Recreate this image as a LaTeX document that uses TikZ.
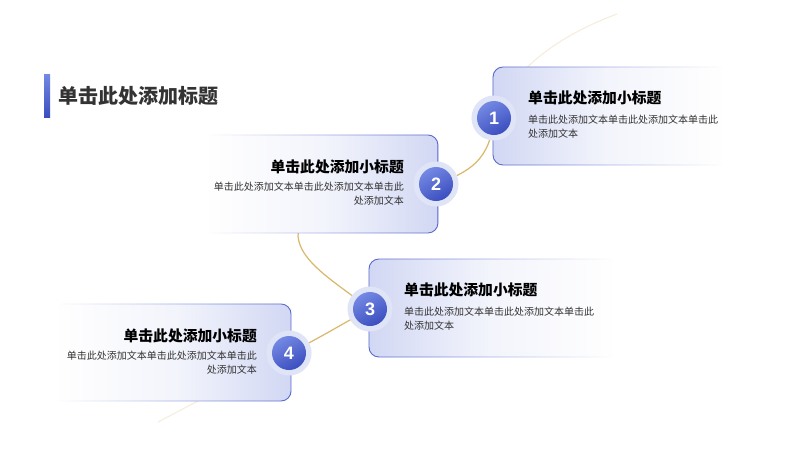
\documentclass[tikz,border=0pt]{standalone}
\usepackage{fontspec}
\setmainfont{Liberation Sans}
\newfontfamily\cjk{Noto Sans CJK SC}
\usetikzlibrary{fadings}
\definecolor{gold}{HTML}{D8B86A}
\definecolor{edge}{HTML}{5568CC}
\definecolor{boxbl}{HTML}{D2D8F4}
\definecolor{halo}{HTML}{DFE4F7}
\definecolor{cA}{HTML}{7489E3}
\definecolor{cB}{HTML}{3B4EBF}
\definecolor{ttl}{HTML}{333333}
\definecolor{body}{HTML}{333333}
\tikzfading[name=edgeR, left color=transparent!0, right color=transparent!100]
\tikzfading[name=edgeL, left color=transparent!100, right color=transparent!0]
\tikzfading[name=fillR, left color=transparent!0, right color=transparent!100, middle color=transparent!75]
\tikzfading[name=fillL, left color=transparent!100, right color=transparent!0, middle color=transparent!75]
\pgfdeclarelayer{back}
\pgfdeclarelayer{bg}
\pgfsetlayers{back,bg,main}
\begin{document}
\begin{tikzpicture}[x=1pt,y=1pt,
  circ/.style={circle, minimum size=34pt, inner sep=0pt,
    preaction={draw=halo, line width=11pt},
    top color=cA, bottom color=cB, shading angle=30,
    text=white, font=\bfseries\fontsize{18}{18}\selectfont},
  subttl/.style={font=\cjk\bfseries\fontsize{14.8}{16}\selectfont, text=black, inner sep=0pt},
  bodytxt/.style={font=\cjk\fontsize{10}{14}\selectfont, text=body, inner sep=0pt},
  curve/.style={draw=gold, line width=1.2pt},
  faint/.style={draw=gold!25, line width=1pt},
  boxedge/.style={draw=edge, line width=0.9pt},
  boxfill/.style={fill=boxbl, draw=none, rounded corners=10pt},
  boxwhite/.style={fill=white, draw=none, rounded corners=10pt}]
\useasboundingbox (0,0) rectangle (800,-450);
\begin{pgfonlayer}{back}
\fill[white] (0,0) rectangle (800,-450);
\end{pgfonlayer}

% title
\shade[top color=cA, bottom color=cB] (44,-74) rectangle (50,-117);
\node[anchor=west, inner sep=0pt, text=ttl, font=\cjk\bfseries\fontsize{20}{22}\selectfont] (title) at (58,-96) {单击此处添加标题};

% box 1 (left rounded)
\fill[boxwhite] (722,-67) -- (493,-67) -- (493,-165) -- (722,-165);
\fill[boxfill, path fading=fillR] (722,-67) -- (493,-67) -- (493,-165) -- (722,-165);
\draw[boxedge, path fading=edgeR, rounded corners=10pt] (722,-67) -- (493,-67) -- (493,-165) -- (722,-165);
% box 2 (right rounded)
\fill[boxwhite] (208,-135) -- (438,-135) -- (438,-233) -- (208,-233);
\fill[boxfill, path fading=fillL] (208,-135) -- (438,-135) -- (438,-233) -- (208,-233);
\draw[boxedge, path fading=edgeL, rounded corners=10pt] (208,-135) -- (438,-135) -- (438,-233) -- (208,-233);
% box 3 (left rounded)
\fill[boxwhite] (612,-259) -- (369,-259) -- (369,-357) -- (612,-357);
\fill[boxfill, path fading=fillR] (612,-259) -- (369,-259) -- (369,-357) -- (612,-357);
\draw[boxedge, path fading=edgeR, rounded corners=10pt] (612,-259) -- (369,-259) -- (369,-357) -- (612,-357);
% box 4 (right rounded)
\fill[boxwhite] (58,-304) -- (291,-304) -- (291,-401) -- (58,-401);
\fill[boxfill, path fading=fillL] (58,-304) -- (291,-304) -- (291,-401) -- (58,-401);
\draw[boxedge, path fading=edgeL, rounded corners=10pt] (58,-304) -- (291,-304) -- (291,-401) -- (58,-401);

% circles
\node[circ] (n1) at (494,-118) {1};
\node[circ] (n2) at (436,-184) {2};
\node[circ] (n3) at (370,-309) {3};
\node[circ] (n4) at (289,-353) {4};

% texts
\node[subttl, anchor=west] (t1) at (528,-98) {单击此处添加小标题};
\node[bodytxt, anchor=north west, align=left] (b1) at (528,-115) {单击此处添加文本单击此处添加文本单击此\\处添加文本};
\node[subttl, anchor=east] (t2) at (404,-167) {单击此处添加小标题};
\node[bodytxt, anchor=north east, align=right] (b2) at (404,-182) {单击此处添加文本单击此处添加文本单击此\\处添加文本};
\node[subttl, anchor=west] (t3) at (404,-290) {单击此处添加小标题};
\node[bodytxt, anchor=north west, align=left] (b3) at (404,-307) {单击此处添加文本单击此处添加文本单击此\\处添加文本};
\node[subttl, anchor=east] (t4) at (257,-336) {单击此处添加小标题};
\node[bodytxt, anchor=north east, align=right] (b4) at (257,-351) {单击此处添加文本单击此处添加文本单击此\\处添加文本};

\coordinate (top) at (617,-14);
\coordinate (bot) at (158,-422);

% connectors behind boxes
\begin{pgfonlayer}{bg}
\draw[faint] (n1.center) .. controls (510,-70) and (560,-35) .. (top);
\draw[curve] (n1.center) .. controls (490,-160) and (470,-172) .. (n2.center);
\draw[curve] (n2.center) .. controls (360,-200) and (296,-215) .. (298,-236) .. controls (300,-262) and (335,-282) .. (n3.center);
\draw[curve] (n3.center) .. controls (340,-325) and (320,-338) .. (n4.center);
\draw[faint] (n4.center) -- (bot);
\end{pgfonlayer}
\end{tikzpicture}
\end{document}
